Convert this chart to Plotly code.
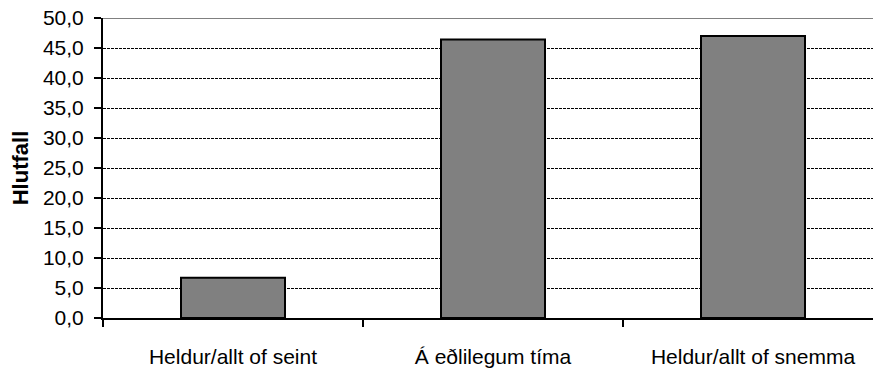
import plotly.graph_objects as go

# Survey answers and their share (%)
categories = ["Heldur/allt of seint", "Á eðlilegum tíma", "Heldur/allt of snemma"]
shares = [6.7, 46.4, 47.0]
y_ticks = [0, 5, 10, 15, 20, 25, 30, 35, 40, 45, 50]

W, H = 873, 374
left, top, bottom = 103, 18, 56
cat_px = 260.0
plot_w = W - left
x_max = -0.5 + plot_w / cat_px

label_font = dict(family="Liberation Sans, Arial", size=21, color="#000000")

fig = go.Figure()
fig.add_trace(go.Bar(
    x=categories,
    y=shares,
    width=0.4,
    marker=dict(color="#808080", line=dict(color="#000000", width=2)),
    hoverinfo="x+y",
))

fig.update_layout(
    width=W,
    height=H,
    margin=dict(l=left, r=0, t=top, b=bottom, pad=0),
    paper_bgcolor="#ffffff",
    plot_bgcolor="#ffffff",
    separators=",.",
    showlegend=False,
    bargap=0.6,
    xaxis=dict(
        type="category",
        range=[-0.5, x_max],
        tickson="boundaries",
        ticks="outside",
        ticklen=7,
        tickwidth=2,
        tickcolor="#000000",
        showline=True,
        linecolor="#000000",
        linewidth=2,
        showgrid=False,
        tickfont=label_font,
        ticklabelstandoff=19,
    ),
    yaxis=dict(
        range=[0, 50],
        tickvals=y_ticks,
        tickformat=".1f",
        ticks="outside",
        ticklen=7,
        tickwidth=2,
        tickcolor="#000000",
        showline=True,
        linecolor="#000000",
        linewidth=2,
        showgrid=True,
        gridcolor="#000000",
        gridwidth=1,
        griddash="3px,1px",
        zeroline=False,
        tickfont=label_font,
        ticklabelstandoff=6,
        title=dict(
            text="<b>Hlutfall</b>",
            font=dict(family="Liberation Sans, Arial", size=22, color="#000000"),
            standoff=8,
        ),
    ),
)

# Grey border along the top of the plot area
fig.add_shape(
    type="line", xref="paper", yref="y",
    x0=0, x1=1, y0=50, y1=50,
    line=dict(color="#808080", width=2),
)

fig.write_html("out.html")
